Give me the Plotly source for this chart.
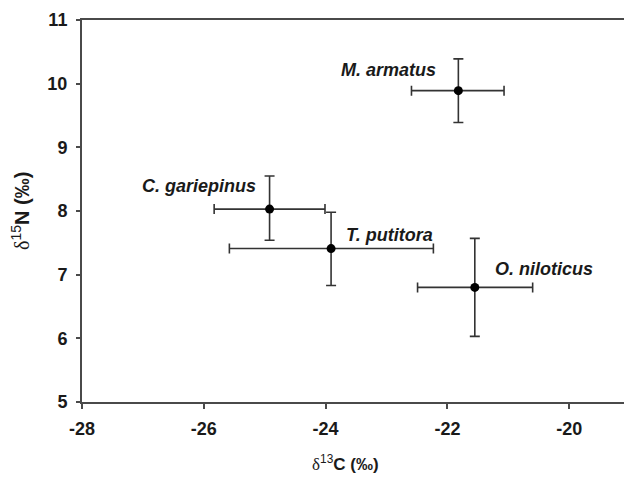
import plotly.graph_objects as go

species = ["M. armatus", "C. gariepinus", "T. putitora", "O. niloticus"]
d13C = [-21.82, -24.92, -23.91, -21.55]
d13C_err_plus = [0.75, 0.91, 1.68, 0.95]
d13C_err_minus = [0.77, 0.91, 1.67, 0.94]
d15N = [9.89, 8.03, 7.41, 6.80]
d15N_err_plus = [0.50, 0.52, 0.57, 0.77]
d15N_err_minus = [0.50, 0.49, 0.58, 0.77]

x_ticks = [-28, -26, -24, -22, -20]
y_ticks = [5, 6, 7, 8, 9, 10, 11]

# label offsets (pixels) relative to each point
label_anchor = ["right", "right", "left", "left"]
label_dx = [-20, -12, 13, 18]
label_dy = [21, 23, 14, 18]

axis_color = "#4a4a4a"
bar_color = "#333333"
text_color = "#1a1a1a"
font_family = "Liberation Sans, Arial"

fig = go.Figure()
fig.add_trace(go.Scatter(
    x=d13C, y=d15N, mode="markers",
    marker=dict(color="black", size=9),
    error_x=dict(type="data", symmetric=False, array=d13C_err_plus,
                 arrayminus=d13C_err_minus, color=bar_color, thickness=1.6, width=5),
    error_y=dict(type="data", symmetric=False, array=d15N_err_plus,
                 arrayminus=d15N_err_minus, color=bar_color, thickness=1.6, width=5),
    showlegend=False,
))

for name, x, y, anc, dx, dy in zip(species, d13C, d15N, label_anchor, label_dx, label_dy):
    fig.add_annotation(x=x, y=y, xref="x", yref="y", text=f"<b><i>{name}</i></b>",
                       showarrow=False, xanchor=anc, yanchor="middle",
                       xshift=dx, yshift=dy,
                       font=dict(family=font_family, size=18, color=text_color))

delta = "<span style='font-family:Liberation Serif; font-weight:normal'>δ</span>"
fig.add_annotation(xref="paper", yref="paper", x=(345 - 82) / 542, y=-61 / 382,
                   text=f"{delta}<sup>13</sup><b>C (‰)</b>", showarrow=False,
                   xanchor="center", yanchor="middle",
                   font=dict(family=font_family, size=17, color=text_color))
fig.add_annotation(xref="paper", yref="paper", x=-62 / 542, y=(402 - 211) / 382,
                   text=f"{delta}<sup>15</sup><b>N (‰)</b>", showarrow=False,
                   textangle=-90, xanchor="center", yanchor="middle",
                   font=dict(family=font_family, size=20, color=text_color))

fig.update_layout(
    width=624, height=478,
    margin=dict(l=82, r=0, t=20, b=76),
    paper_bgcolor="white", plot_bgcolor="white",
    font=dict(family=font_family, size=18, color=text_color),
)
fig.update_xaxes(range=[-28, -28 + 542 / 60.9], tickvals=x_ticks,
                 ticktext=[f"<b>{v}</b>" for v in x_ticks],
                 tickfont=dict(size=18),
                 showline=True, linecolor=axis_color, linewidth=2, mirror=True,
                 ticks="outside", ticklen=5, tickcolor=axis_color, tickwidth=1.5,
                 ticklabelstandoff=4,
                 showgrid=False, zeroline=False)
fig.update_yaxes(range=[5, 11], tickvals=y_ticks,
                 ticktext=[f"<b>{v}</b>" for v in y_ticks],
                 tickfont=dict(size=18),
                 showline=True, linecolor=axis_color, linewidth=2, mirror=False,
                 ticks="outside", ticklen=4, tickcolor=axis_color, tickwidth=1.5,
                 ticklabelstandoff=5,
                 showgrid=False, zeroline=False)

fig.write_html("out.html")
